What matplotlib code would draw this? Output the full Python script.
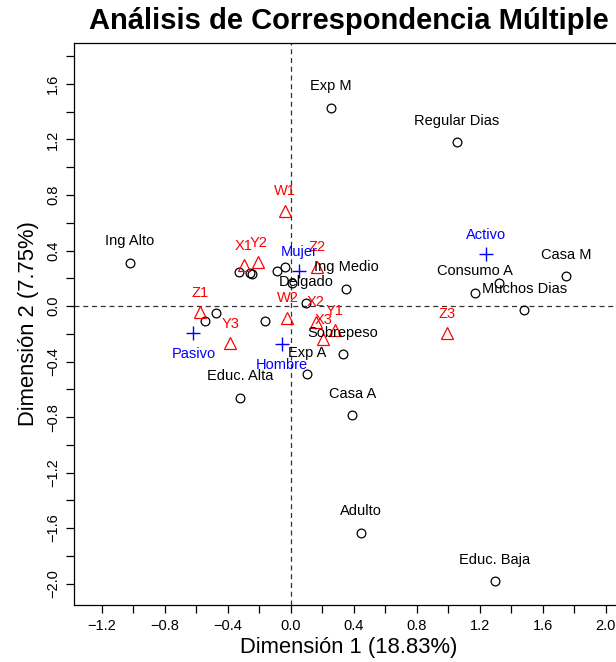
import numpy as np
import matplotlib.pyplot as plt
from matplotlib.ticker import MultipleLocator, FuncFormatter

plt.rcParams['font.family'] = ['Liberation Sans', 'DejaVu Sans']

# categorias activas (circulos negros); '' = sin etiqueta
cat_names = ['Exp M', 'Regular Dias', 'Ing Alto', 'Casa M', 'Consumo A',
             'Muchos Dias', '', 'Ing Medio', 'Delgado', 'Sobrepeso', 'Exp A',
             'Educ. Alta', 'Casa A', 'Adulto', 'Educ. Baja',
             '', '', '', '', '', '', '', '', '']
cat_x = [0.257, 1.057, -1.019, 1.750, 1.171, 1.483, 1.324, 0.352, 0.100,
         0.331, 0.103, -0.318, 0.392, 0.446, 1.297,
         -0.325, -0.257, -0.246, -0.088, -0.035, 0.008, -0.473, -0.543, -0.162]
cat_y = [1.427, 1.180, 0.310, 0.216, 0.094, -0.030, 0.166, 0.125, 0.020,
         -0.346, -0.490, -0.662, -0.786, -1.635, -1.982,
         0.247, 0.240, 0.231, 0.254, 0.283, 0.164, -0.053, -0.108, -0.108]

# variables W, X, Y, Z (triangulos rojos)
var_names = ['W1', 'W2', 'X1', 'X2', 'X3', 'Y1', 'Y2', 'Y3', 'Z1', 'Z2', 'Z3']
var_x = [-0.035, -0.020, -0.297, 0.162, 0.208, 0.279, -0.204, -0.382, -0.575, 0.166, 0.996]
var_y = [0.687, -0.084, 0.295, -0.114, -0.238, -0.173, 0.315, -0.269, -0.045, 0.283, -0.197]

# suplementarias (cruces azules)
sup_names = ['Mujer', 'Hombre', 'Activo', 'Pasivo']
sup_x = [0.052, -0.054, 1.239, -0.617]
sup_y = [0.252, -0.274, 0.372, -0.192]
sup_below = [False, True, False, True]

fig = plt.figure(figsize=(6.16, 6.62), dpi=100)
ax = fig.add_axes([74/616, 57/662, 550/616, 562/662])

ax.axhline(0, color='#333333', lw=0.9, ls=(0, (4, 3)), zorder=1)
ax.axvline(0, color='#333333', lw=0.9, ls=(0, (4, 3)), zorder=1)

ax.plot(cat_x, cat_y, 'o', mfc='none', mec='black', ms=6.3, mew=0.9, zorder=3)
ax.plot(var_x, var_y, '^', mfc='none', mec='red', ms=8, mew=0.9, zorder=3)
ax.plot(sup_x, sup_y, '+', color='blue', ms=10, mew=1.0, zorder=3)

fs = 10.5
for n, x, y in zip(cat_names, cat_x, cat_y):
    if n:
        ax.annotate(n, (x, y), xytext=(0, 15.5), textcoords='offset points',
                    ha='center', va='center', fontsize=fs, color='black')
for n, x, y in zip(var_names, var_x, var_y):
    ax.annotate(n, (x, y), xytext=(0, 14), textcoords='offset points',
                ha='center', va='center', fontsize=fs, color='red')
for n, x, y, b in zip(sup_names, sup_x, sup_y, sup_below):
    ax.annotate(n, (x, y), xytext=(0, -15 if b else 14), textcoords='offset points',
                ha='center', va='center', fontsize=fs, color='blue')

ax.set_xlim(-1.375, 2.117)
ax.set_ylim(-2.154, 1.895)

ax.xaxis.set_major_locator(MultipleLocator(0.2))
ax.yaxis.set_major_locator(MultipleLocator(0.2))

def lab(v, pos):
    k = int(round(v / 0.2))
    if k % 2:
        return ''
    return ('%.1f' % v).replace('-', '\u2212') if abs(v) > 1e-9 else '0.0'

ax.xaxis.set_major_formatter(FuncFormatter(lab))
ax.yaxis.set_major_formatter(FuncFormatter(lab))
ax.tick_params(direction='out', length=6, width=0.9, labelsize=fs, pad=4)
for t in ax.get_yticklabels():
    t.set_rotation(90)
    t.set_va('center')
for s in ax.spines.values():
    s.set_linewidth(0.9)

ax.set_xlabel('Dimensión 1 (18.83%)', fontsize=15.8, labelpad=3)
ax.set_ylabel('Dimensión 2 (7.75%)', fontsize=15.8, labelpad=5)
ax.set_title('Análisis de Correspondencia Múltiple', fontsize=21,
             fontweight='bold', pad=10)

fig.savefig('out.png', dpi=100)
